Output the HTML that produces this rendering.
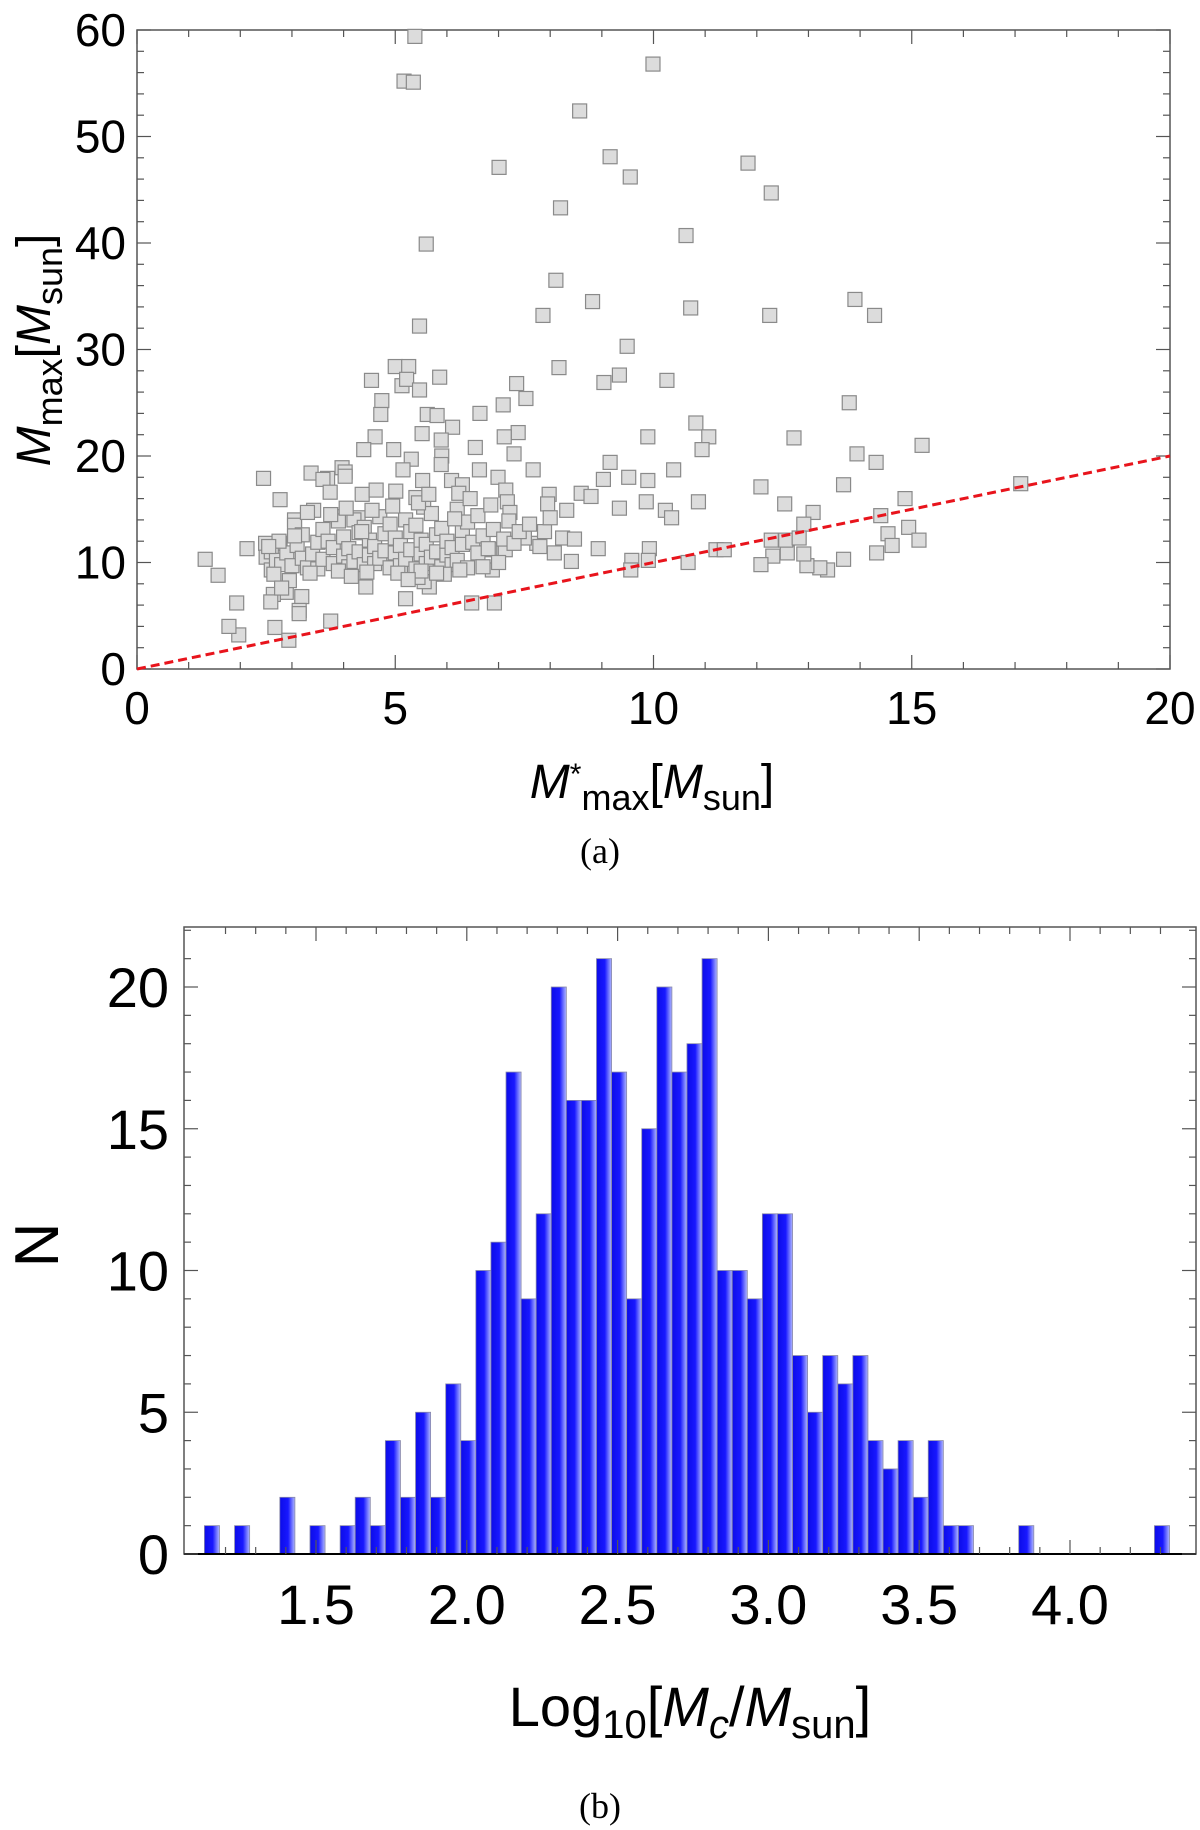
<!DOCTYPE html>
<html><head><meta charset="utf-8"><style>
html,body{margin:0;padding:0;background:#fff}
svg{display:block}
text{font-family:"Liberation Sans",sans-serif;fill:#000}
</style></head><body>
<svg width="1200" height="1830" viewBox="0 0 1200 1830" xmlns="http://www.w3.org/2000/svg">
<defs>
<linearGradient id="bg" x1="0" x2="1" y1="0" y2="0">
<stop offset="0" stop-color="#0c0ce8"/><stop offset="0.55" stop-color="#1818ff"/><stop offset="1" stop-color="#b0b8ff"/>
</linearGradient>
</defs>
<g id="top"></g>
<g id="bot"></g>
<text x="600" y="863" text-anchor="middle" style="font-family:'Liberation Serif',serif;font-size:36px">(a)</text>
<text x="600" y="1818" text-anchor="middle" style="font-family:'Liberation Serif',serif;font-size:36px">(b)</text>
</svg>
<script>
const scatterX = [5.38,5.17,5.35,9.99,8.57,7.01,9.16,9.55,11.83,12.28,8.2,5.6,10.63,8.11,8.82,7.86,10.72,12.25,13.9,14.28,5.47,9.49,5.0,5.26,8.17,5.86,4.54,9.34,10.26,9.04,7.35,5.13,5.22,5.47,4.74,7.53,7.09,13.79,4.72,5.62,5.81,6.64,6.11,4.61,7.38,7.11,5.52,9.89,10.82,11.07,12.72,15.2,5.89,10.94,4.39,4.97,6.55,7.3,13.94,5.9,5.31,5.15,5.89,9.16,14.31,10.39,3.97,4.03,3.37,6.63,7.67,2.45,3.69,4.03,5.53,6.09,6.99,9.03,9.52,9.89,12.08,13.68,17.11,3.6,6.3,5.01,3.74,4.36,4.63,8.6,8.79,7.98,7.14,14.87,2.77,5.4,10.87,12.54,6.23,5.55,9.86,9.34,7.95,7.17,14.4,13.09,10.23,10.35,8.32,7.22,3.42,3.9,4.28,3.05,12.91,14.54,14.94,14.62,15.14,14.32,13.68,13.37,13.22,12.97,12.91,12.59,12.31,12.28,12.08,12.56,12.82,11.21,11.37,10.67,9.92,9.58,9.56,9.9,8.93,8.41,8.24,8.47,8.08,7.74,7.89,7.5,7.13,6.83,6.88,6.92,6.48,5.2,5.66,5.56,5.44,4.43,3.75,3.19,3.14,3.14,2.89,2.64,2.59,2.67,2.94,1.97,1.78,1.93,1.57,1.32,2.13,2.49,2.77,3.05,
2.5,2.6,2.6,2.7,2.8,2.9,3.0,3.1,3.2,3.2,3.3,3.4,3.5,3.5,3.6,3.6,3.7,3.8,3.8,3.9,4.0,4.0,4.1,4.1,4.2,4.2,4.3,4.3,4.4,4.4,4.5,4.5,4.6,4.6,4.7,4.7,4.8,4.8,4.9,4.9,5.0,5.0,5.1,5.1,5.2,5.2,5.3,5.3,5.4,5.4,5.5,5.5,5.6,5.6,5.7,5.7,5.8,5.8,5.9,5.9,6.0,6.0,6.1,6.1,6.2,6.2,6.3,6.3,6.4,6.4,6.5,6.6,6.6,6.7,6.8,6.9,7.0,7.1,7.2,7.3,7.4,7.6,7.8,8.0,4.35,4.55,4.95,5.45,3.3,3.75,4.05,5.65,6.15,6.45,6.85,3.05,2.75,2.55,2.65,2.95,2.8,3.35,3.9,4.45,5.05,5.5,5.95,6.25,6.7,4.15,5.25,5.8];
const scatterY = [59.4,55.2,55.1,56.8,52.4,47.1,48.1,46.2,47.5,44.7,43.3,39.9,40.7,36.5,34.5,33.2,33.9,33.2,34.7,33.2,32.2,30.3,28.4,28.4,28.3,27.4,27.1,27.6,27.1,26.9,26.8,26.6,27.2,26.2,25.2,25.4,24.8,25.0,23.9,23.9,23.8,24.0,22.7,21.8,22.2,21.8,22.1,21.8,23.1,21.8,21.7,21.0,21.5,20.6,20.6,20.6,20.8,20.2,20.2,20.0,19.7,18.7,19.2,19.4,19.4,18.7,18.9,18.5,18.4,18.7,18.7,17.9,17.9,18.1,17.7,17.7,18.0,17.8,18.0,17.7,17.1,17.3,17.4,17.8,17.3,16.7,16.6,16.4,16.8,16.5,16.2,16.4,16.8,16.0,15.9,16.1,15.7,15.5,16.5,15.2,15.7,15.1,15.5,15.7,14.4,14.7,14.9,14.2,14.9,14.7,14.9,14.3,14.2,14.0,13.6,12.7,13.3,11.6,12.1,10.9,10.3,9.3,9.5,9.7,10.8,10.9,10.6,12.1,9.8,12.1,12.3,11.2,11.2,10.0,11.3,10.2,9.3,10.2,11.3,10.1,12.3,12.2,10.9,11.8,12.9,12.3,11.2,11.2,9.3,6.2,6.2,6.6,7.7,8.2,8.6,7.7,4.5,6.8,5.5,5.2,7.2,7.0,6.3,3.9,2.7,3.2,4.0,6.2,8.8,10.3,11.3,11.8,11.8,13.5,
10.5,9.3,11.0,10.2,9.8,10.9,9.7,11.6,10.4,12.6,9.5,10.8,11.9,9.4,13.1,10.3,12.0,9.9,11.4,13.9,10.6,12.4,9.6,11.3,14.0,10.1,12.8,11.0,9.8,13.3,10.7,12.1,11.5,9.9,14.3,10.4,12.7,11.1,9.5,13.6,10.9,12.3,11.6,9.7,14.0,10.3,12.9,11.2,9.4,13.5,10.8,12.1,11.7,9.9,14.6,10.5,12.6,11.0,9.6,13.2,10.7,12.0,11.4,9.8,15.0,10.2,12.8,11.7,9.5,13.8,11.9,14.4,10.9,12.5,11.3,13.1,10.0,12.2,13.9,11.8,12.9,13.6,11.5,14.2,12.9,14.9,15.3,15.6,14.7,14.5,15.1,16.4,14.1,16.0,15.4,12.5,12.0,11.5,8.9,8.3,7.6,9.0,9.2,9.1,9.0,9.2,8.9,9.3,9.6,8.7,8.4,9.0];
const xTicksTop = ["0","5","10","15","20"];
const yTicksTop = ["0","10","20","30","40","50","60"];

const binStart = 1.13, binWidth = 0.05;
const binCounts = [1,0,1,0,0,2,0,1,0,1,2,1,4,2,5,2,6,4,10,11,17,9,12,20,16,16,21,17,9,15,20,17,18,21,10,10,9,12,12,7,5,7,6,7,4,3,4,2,4,1,1,0,0,0,1,0,0,0,0,0,0,0,0,1];
const xTicksBot = ["1.5","2.0","2.5","3.0","3.5","4.0"];
const yTicksBot = ["0","5","10","15","20"];

const NS="http://www.w3.org/2000/svg";
function mk(parent,tag,attrs,txt){const e=document.createElementNS(NS,tag);for(const k in attrs)e.setAttribute(k,attrs[k]);if(txt!==undefined)e.textContent=txt;parent.appendChild(e);return e;}

// ---------- top scatter ----------
const T=document.getElementById('top');
const L1=137,R1=1170,T1=30,B1=669;
const sx=v=>L1+(v/20)*(R1-L1), sy=v=>B1-(v/60)*(B1-T1);
mk(T,'rect',{x:L1,y:T1,width:R1-L1,height:B1-T1,fill:'none',stroke:'#555','stroke-width':1.5});
for(let i=0;i<=20;i++){const x=sx(i),len=i%5===0?14:7;
 mk(T,'line',{x1:x,x2:x,y1:B1,y2:B1-len,stroke:'#555','stroke-width':1.2});
 mk(T,'line',{x1:x,x2:x,y1:T1,y2:T1+len,stroke:'#555','stroke-width':1.2});}
for(let i=0;i<=60;i+=2){const y=sy(i),len=i%10===0?14:7;
 mk(T,'line',{x1:L1,x2:L1+len,y1:y,y2:y,stroke:'#555','stroke-width':1.2});
 mk(T,'line',{x1:R1,x2:R1-len,y1:y,y2:y,stroke:'#555','stroke-width':1.2});}
xTicksTop.forEach((t,i)=>{const e=mk(T,'text',{x:sx(+t),y:724,'text-anchor':'middle','font-size':46},t);
 
 });
yTicksTop.forEach(t=>{const e=mk(T,'text',{x:126,y:sy(+t)+16,'text-anchor':'end','font-size':46},t);
 
 });
for(let i=0;i<scatterX.length;i++){const r=mk(T,'rect',{x:sx(scatterX[i])-7,y:sy(scatterY[i])-7,width:14,height:14,fill:'#dcdcdc',stroke:'#8a8a8a','stroke-width':1.2});
 
 }
const ln=mk(T,'line',{x1:sx(0),y1:sy(0),x2:sx(20),y2:sy(20),stroke:'#e8141c','stroke-width':3,'stroke-dasharray':'9,5'});


let xt=mk(T,'text',{x:652,y:798,'text-anchor':'middle','font-size':48});
xt.innerHTML='<tspan font-style="italic">M</tspan><tspan dy="-14" font-size="30">*</tspan><tspan dy="26" font-size="36">max</tspan><tspan dy="-12">[</tspan><tspan font-style="italic">M</tspan><tspan dy="12" font-size="36">sun</tspan><tspan dy="-12">]</tspan>';


let yt=mk(T,'text',{x:0,y:0,'text-anchor':'middle','font-size':48,transform:'translate(50,350) rotate(-90)'});
yt.innerHTML='<tspan font-style="italic">M</tspan><tspan dy="12" font-size="36">max</tspan><tspan dy="-12">[</tspan><tspan font-style="italic">M</tspan><tspan dy="12" font-size="36">sun</tspan><tspan dy="-12">]</tspan>';



// ---------- bottom histogram ----------
const Bt=document.getElementById('bot');
const L2=184,R2=1196,T2=927,B2=1554;
const hx=v=>316+(v-1.5)*301.6, hy=v=>B2-v*28.35;
binCounts.forEach((c,i)=>{if(!c)return;const x0=hx(binStart+i*binWidth),x1=hx(binStart+(i+1)*binWidth);
 const r=mk(Bt,'rect',{x:x0,y:hy(c),width:x1-x0,height:B2-hy(c),fill:'url(#bg)',stroke:'#8888aa','stroke-width':0.8});
 
 });
mk(Bt,'rect',{x:L2,y:T2,width:R2-L2,height:B2-T2,fill:'none',stroke:'#555','stroke-width':1.5});
mk(Bt,'line',{x1:L2,x2:R2,y1:B2,y2:B2,stroke:'#000','stroke-width':2});
for(let k=12;k<=43;k++){const v=k/10,x=hx(v);if(x<L2||x>R2)continue;const len=k%5===0?14:7;
 mk(Bt,'line',{x1:x,x2:x,y1:B2,y2:B2-len,stroke:'#555','stroke-width':1.2});
 mk(Bt,'line',{x1:x,x2:x,y1:T2,y2:T2+len,stroke:'#555','stroke-width':1.2});}
for(let i=0;i<=22;i++){const y=hy(i),len=i%5===0?14:7;
 mk(Bt,'line',{x1:L2,x2:L2+len,y1:y,y2:y,stroke:'#555','stroke-width':1.2});
 mk(Bt,'line',{x1:R2,x2:R2-len,y1:y,y2:y,stroke:'#555','stroke-width':1.2});}
xTicksBot.forEach(t=>{const e=mk(Bt,'text',{x:hx(+t),y:1624,'text-anchor':'middle','font-size':56},t);
 
 });
yTicksBot.forEach(t=>{const e=mk(Bt,'text',{x:169,y:hy(+t)+20,'text-anchor':'end','font-size':56},t);
 
 });
let bx=mk(Bt,'text',{x:690,y:1726,'text-anchor':'middle','font-size':56});
bx.innerHTML='Log<tspan dy="12" font-size="40">10</tspan><tspan dy="-12">[</tspan><tspan font-style="italic">M</tspan><tspan dy="12" font-size="40" font-style="italic">c</tspan><tspan dy="-12">/</tspan><tspan font-style="italic">M</tspan><tspan dy="12" font-size="40">sun</tspan><tspan dy="-12">]</tspan>';


let by=mk(Bt,'text',{x:0,y:0,'text-anchor':'middle','font-size':62,transform:'translate(58,1245) rotate(-90)'},'N');


</script>
</body></html>
